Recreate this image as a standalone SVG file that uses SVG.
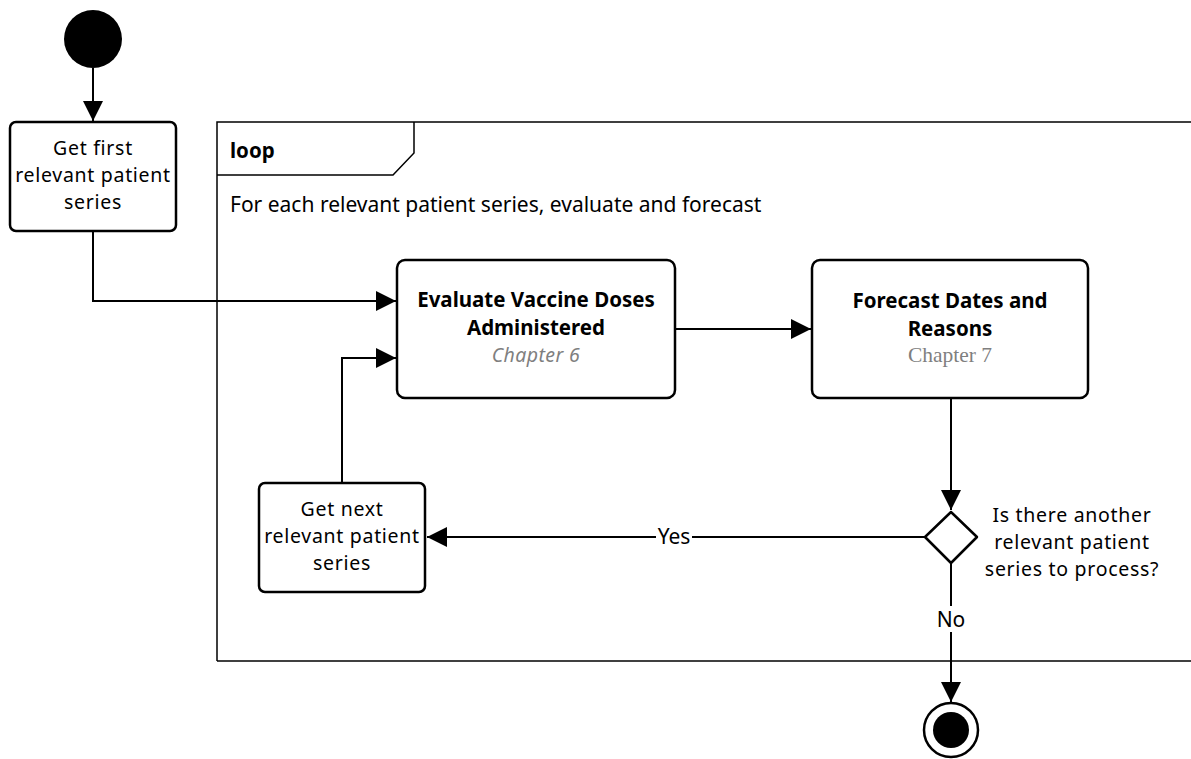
<svg xmlns="http://www.w3.org/2000/svg" width="1191" height="759" viewBox="0 0 1191 759">
<style>
.box{fill:#fff;stroke:#000;stroke-width:2.5}
.t{font-family:"Noto Sans","Open Sans","DejaVu Sans",sans-serif;font-size:21px;fill:#000;text-anchor:middle}
.m{font-size:19.5px;letter-spacing:0.7px}
.b{font-weight:bold;font-size:20.5px}
.ch{fill:#7f7f7f;font-style:italic;font-weight:normal;font-size:19.5px;letter-spacing:0.4px}
.ser{font-family:"Liberation Serif","Times New Roman",serif;fill:#7f7f7f;font-weight:normal;font-size:21.5px;text-anchor:middle}
.ln{fill:none;stroke:#000;stroke-width:2}
.frame{fill:none;stroke:#000;stroke-width:1.5}
</style>
<defs>
<marker id="ah" markerWidth="20" markerHeight="20" refX="20" refY="10" orient="auto" markerUnits="userSpaceOnUse">
<path d="M0,0 L20,10 L0,20 Z" fill="#000"/>
</marker>
</defs>
<g id="loop">
<path class="frame" d="M217,661 L217,122 L1195,122"/>
<path class="frame" d="M217,661 L1195,661"/>
<path class="frame" d="M217,175 L393,175 L414,153 L414,122"/>
<text class="t b" x="230" y="158" style="text-anchor:start">loop</text>
<text class="t" x="230" y="212" style="text-anchor:start">For each relevant patient series, evaluate and forecast</text>
</g>
<g id="start"><circle cx="93" cy="39" r="29" fill="#000"/></g>
<g id="getfirst">
<rect class="box" x="10" y="122" width="166" height="109" rx="6"/>
<text class="t m" x="93" y="155">Get first</text>
<text class="t m" x="93" y="182">relevant patient</text>
<text class="t m" x="93" y="209">series</text>
</g>
<g id="evaluate">
<rect class="box" x="397" y="260" width="278" height="138" rx="8"/>
<text class="t b" x="536" y="307">Evaluate Vaccine Doses</text>
<text class="t b" x="536" y="335">Administered</text>
<text class="t ch" x="536" y="362">Chapter 6</text>
</g>
<g id="forecast">
<rect class="box" x="812" y="260" width="276" height="138" rx="8"/>
<text class="t b" x="950" y="308">Forecast Dates and</text>
<text class="t b" x="950" y="336">Reasons</text>
<text class="ser" x="950" y="362">Chapter 7</text>
</g>
<g id="getnext">
<rect class="box" x="259" y="483" width="166" height="109" rx="6"/>
<text class="t m" x="342" y="516">Get next</text>
<text class="t m" x="342" y="543">relevant patient</text>
<text class="t m" x="342" y="570">series</text>
</g>
<g id="decision">
<path class="box" d="M951,512 L977,537 L951,563 L925,537 Z" stroke-linejoin="round"/>
<text class="t m" x="1072" y="522">Is there another</text>
<text class="t m" x="1072" y="549">relevant patient</text>
<text class="t m" x="1072" y="576">series to process?</text>
</g>
<g id="end">
<circle cx="951" cy="730" r="27" fill="#fff" stroke="#000" stroke-width="2.5"/>
<circle cx="951" cy="730" r="18" fill="#000"/>
</g>
<g id="connectors">
<path class="ln" d="M93,68 L93,121" marker-end="url(#ah)"/>
<path class="ln" d="M93,232 L93,301 L396,301" marker-end="url(#ah)"/>
<path class="ln" d="M675,329 L811,329" marker-end="url(#ah)"/>
<path class="ln" d="M951,398 L951,510" marker-end="url(#ah)"/>
<path class="ln" d="M925,537 L427,537" marker-end="url(#ah)"/>
<path class="ln" d="M342,483 L342,358 L396,358" marker-end="url(#ah)"/>
<path class="ln" d="M951,563 L951,702" marker-end="url(#ah)"/>
<rect x="656" y="525" width="36" height="24" fill="#fff"/>
<text class="t" x="674" y="544">Yes</text>
<rect x="936" y="606" width="30" height="26" fill="#fff"/>
<text class="t" x="951" y="627">No</text>
</g>
</svg>
